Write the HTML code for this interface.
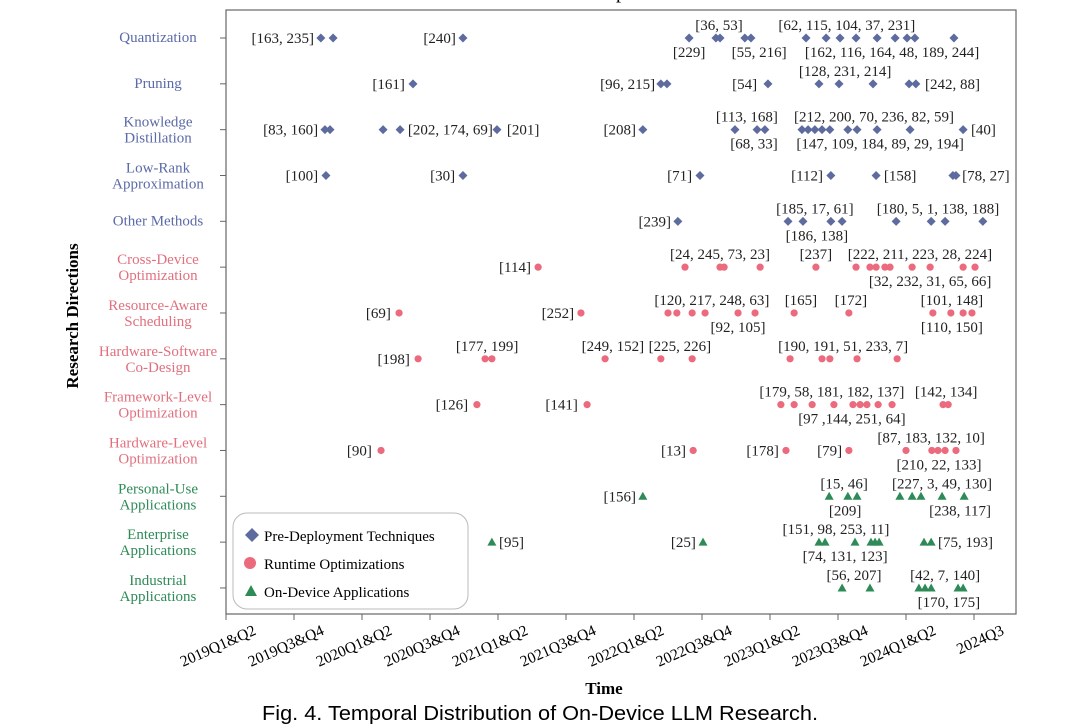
<!DOCTYPE html>
<html><head><meta charset="utf-8"><style>
html,body{margin:0;padding:0;background:#fff;}
svg{display:block;font-family:"Liberation Serif",serif;}
</style></head><body>
<svg id="chart" width="1080" height="726" viewBox="0 0 1080 726" xmlns="http://www.w3.org/2000/svg">
<text x="621" y="-2" font-size="20" text-anchor="middle">p</text>
<rect x="226" y="10" width="790" height="604" fill="none" stroke="#666" stroke-width="1.2"/>
<g id="yaxis"></g>
<g id="xaxis"></g>
<g id="marks"></g>
<g id="labels"></g>
<text x="0" y="0" transform="translate(78,316) rotate(-90)" font-size="17" font-weight="bold" text-anchor="middle">Research Directions</text>
<text x="604" y="694" font-size="17" font-weight="bold" text-anchor="middle">Time</text>
<text x="540" y="720" font-size="20" text-anchor="middle" font-family="Liberation Sans, sans-serif" textLength="556" lengthAdjust="spacingAndGlyphs">Fig. 4.  Temporal Distribution of On-Device LLM Research.</text>
<g>
<rect x="233" y="513" width="235" height="96" rx="14" fill="#fff" stroke="#bbb"/>
<path d="M252,528 l7,7 l-7,7 l-7,-7 z" fill="#5d6b9f"/>
<text x="264" y="541" font-size="15">Pre-Deployment Techniques</text>
<circle cx="250" cy="563" r="6" fill="#ec6a7d"/>
<text x="264" y="569" font-size="15">Runtime Optimizations</text>
<path d="M251,585 l6,11 l-12,0 z" fill="#2e8b57"/>
<text x="264" y="597" font-size="15">On-Device Applications</text>
</g>
</svg>
<script>
// categories
const rowNames = [["Quantization"],["Pruning"],["Knowledge","Distillation"],["Low-Rank","Approximation"],["Other Methods"],["Cross-Device","Optimization"],["Resource-Aware","Scheduling"],["Hardware-Software","Co-Design"],["Framework-Level","Optimization"],["Hardware-Level","Optimization"],["Personal-Use","Applications"],["Enterprise","Applications"],["Industrial","Applications"]];
const rowGroup = [0,0,0,0,0,1,1,1,1,1,2,2,2];
const xTickLabels = ["2019Q1&Q2","2019Q3&Q4","2020Q1&Q2","2020Q3&Q4","2021Q1&Q2","2021Q3&Q4","2022Q1&Q2","2022Q3&Q4","2023Q1&Q2","2023Q3&Q4","2024Q1&Q2","2024Q3"];
// series values: time in quarters since 2019Q1, one array per row
const rowTimes = [
 [2.79,3.15,6.97,13.62,14.41,14.53,15.26,15.44,17.06,17.65,18.06,18.53,19.15,19.68,20.03,20.26,21.41],
 [5.5,12.79,12.97,15.94,17.44,18.03,19.03,20.09,20.29],
 [2.91,3.06,4.62,5.12,7.97,12.26,14.97,15.62,15.85,16.94,17.12,17.32,17.53,17.76,18.29,18.56,19.15,20.12,21.68],
 [2.94,6.97,13.94,17.79,19.12,21.38,21.47],
 [13.29,16.53,16.97,17.79,18.12,19.71,20.74,21.15,22.26],
 [9.18,13.5,14.53,14.65,15.71,17.35,18.53,18.94,19.12,19.38,19.53,20.18,20.71,21.68,22.03],
 [5.09,10.44,13.0,13.26,13.71,14.09,15.06,15.56,16.71,18.32,20.79,21.32,21.68,21.94],
 [5.65,7.62,7.82,11.15,12.79,13.71,16.59,17.53,17.76,18.56,19.74],
 [7.38,10.62,16.32,16.71,17.24,17.88,18.44,18.65,18.85,19.18,19.59,21.09,21.24],
 [4.56,13.74,16.47,18.32,20.0,20.76,20.94,21.15,21.47],
 [12.26,17.74,18.29,18.56,19.82,20.18,20.44,21.06,21.71],
 [7.82,14.03,17.44,17.62,18.5,18.97,19.09,19.21,20.53,20.74],
 [18.12,18.94,20.38,20.56,20.74,21.53,21.68]
];
// labels: [row, time, text, placement L=left R=right A=above B=below]
const pointLabels = [
 [0,2.59,"[163, 235]","L"],[0,6.76,"[240]","L"],[0,14.5,"[36, 53]","A"],[0,13.62,"[229]","B"],[0,15.68,"[55, 216]","B"],[0,18.26,"[62, 115, 104, 37, 231]","A"],[0,19.59,"[162, 116, 164, 48, 189, 244]","B"],
 [1,5.26,"[161]","L"],[1,12.62,"[96, 215]","L"],[1,15.62,"[54]","L"],[1,18.21,"[128, 231, 214]","A"],[1,20.56,"[242,  88]","R"],
 [2,2.71,"[83, 160]","L"],[2,5.35,"[202, 174, 69]","R"],[2,8.26,"[201]","R"],[2,12.06,"[208]","L"],[2,15.32,"[113, 168]","A"],[2,15.53,"[68, 33]","B"],[2,19.06,"[212, 200, 70, 236, 82, 59]","A"],[2,19.24,"[147, 109, 184, 89, 29, 194]","B"],[2,21.91,"[40]","R"],
 [3,2.71,"[100]","L"],[3,6.74,"[30]","L"],[3,13.71,"[71]","L"],[3,17.56,"[112]","L"],[3,19.35,"[158]","R"],[3,21.65,"[78, 27]","R"],
 [4,13.09,"[239]","L"],[4,17.32,"[185, 17, 61]","A"],[4,17.38,"[186, 138]","B"],[4,20.94,"[180, 5,  1, 138, 188]","A"],
 [5,8.97,"[114]","L"],[5,14.53,"[24, 245, 73, 23]","A"],[5,17.35,"[237]","A"],[5,20.41,"[222, 211, 223, 28, 224]","A"],[5,20.71,"[32, 232, 31, 65, 66]","B"],
 [6,4.85,"[69]","L"],[6,10.24,"[252]","L"],[6,14.29,"[120, 217, 248, 63]","A"],[6,15.06,"[92, 105]","B"],[6,16.91,"[165]","A"],[6,18.38,"[172]","A"],[6,21.35,"[101, 148]","A"],[6,21.35,"[110, 150]","B"],
 [7,5.41,"[198]","L"],[7,7.68,"[177, 199]","A"],[7,11.38,"[249, 152]","A"],[7,13.35,"[225, 226]","A"],[7,18.15,"[190, 191, 51, 233, 7]","A"],
 [8,7.12,"[126]","L"],[8,10.35,"[141]","L"],[8,17.82,"[179, 58, 181, 182, 137]","A"],[8,18.41,"[97 ,144, 251, 64]","B"],[8,21.18,"[142, 134]","A"],
 [9,4.29,"[90]","L"],[9,13.53,"[13]","L"],[9,16.26,"[178]","L"],[9,18.12,"[79]","L"],[9,20.74,"[87, 183, 132, 10]","A"],[9,20.97,"[210, 22, 133]","B"],
 [10,12.06,"[156]","L"],[10,18.18,"[15, 46]","A"],[10,18.21,"[209]","B"],[10,21.06,"[227, 3, 49, 130]","A"],[10,21.59,"[238, 117]","B"],
 [11,8.03,"[95]","R"],[11,13.82,"[25]","L"],[11,17.94,"[151, 98, 253, 11]","A"],[11,18.21,"[74, 131, 123]","B"],[11,20.94,"[75, 193]","R"],
 [12,18.47,"[56, 207]","A"],[12,21.15,"[42, 7, 140]","A"],[12,21.26,"[170, 175]","B"]
];
</script>
<script>
const NS="http://www.w3.org/2000/svg";
const X0=226, QW=34, Y0=38, RH=45.83;
function xScale(t){return X0+t*QW;}
function yScale(r){return Y0+r*RH;}
const groupColor=["#5d6b9f","#ec6a7d","#2e8b57"];
const labelColor=["#5b6aa8","#e0707e","#2e8b57"];
function mk(tag,attrs,parent){const e=document.createElementNS(NS,tag);for(const k in attrs)e.setAttribute(k,attrs[k]);parent.appendChild(e);return e;}
const yaxis=document.getElementById('yaxis'),xaxis=document.getElementById('xaxis'),marks=document.getElementById('marks'),labels=document.getElementById('labels');
rowNames.forEach((lines,r)=>{
  const y=yScale(r);
  const tk=mk('line',{x1:220,x2:226,y1:y,y2:y,stroke:'#666'},yaxis);
  
  
  const t=mk('text',{x:158,'text-anchor':'middle','font-size':15,fill:labelColor[rowGroup[r]]},yaxis);
  
  
  if(lines.length===1){t.setAttribute('y',y+4);t.textContent=lines[0];}
  else{
    lines.forEach((s,i)=>{const ts=mk('tspan',{x:158,y:y-3+i*16},t);ts.textContent=s;});
  }
});
xTickLabels.forEach((s,i)=>{
  const x=xScale(i*2);
  const tk=mk('line',{x1:x,x2:x,y1:614,y2:620,stroke:'#666'},xaxis);
  
  
  const t=mk('text',{'text-anchor':'end','font-size':15.5,transform:`translate(${x+31},634) rotate(-24)`},xaxis);
  
  
  t.textContent=s;
});
rowTimes.forEach((arr,r)=>{
  const g=rowGroup[r],y=yScale(r),c=groupColor[g];
  arr.forEach(v=>{
    const x=xScale(v);let m;
    if(g===0)m=mk('path',{d:`M${x},${y-4.5} l4.5,4.5 l-4.5,4.5 l-4.5,-4.5 z`,fill:c},marks);
    else if(g===1)m=mk('circle',{cx:x,cy:y,r:3.6,fill:c},marks);
    else m=mk('path',{d:`M${x},${y-4.5} l4.5,8 l-9,0 z`,fill:c},marks);
    
    
  });
});
pointLabels.forEach(([r,v,s,p])=>{
  const x=xScale(v),y=yScale(r);let a={'font-size':15,fill:'#222'};
  if(p==='L'){a.x=x;a.y=y+5;a['text-anchor']='end';}
  else if(p==='R'){a.x=x;a.y=y+5;a['text-anchor']='start';}
  else if(p==='A'){a.x=x;a.y=y-8;a['text-anchor']='middle';}
  else {a.x=x;a.y=y+19;a['text-anchor']='middle';}
  const t=mk('text',a,labels);
  
  
  t.textContent=s;
});
</script>
</body></html>
